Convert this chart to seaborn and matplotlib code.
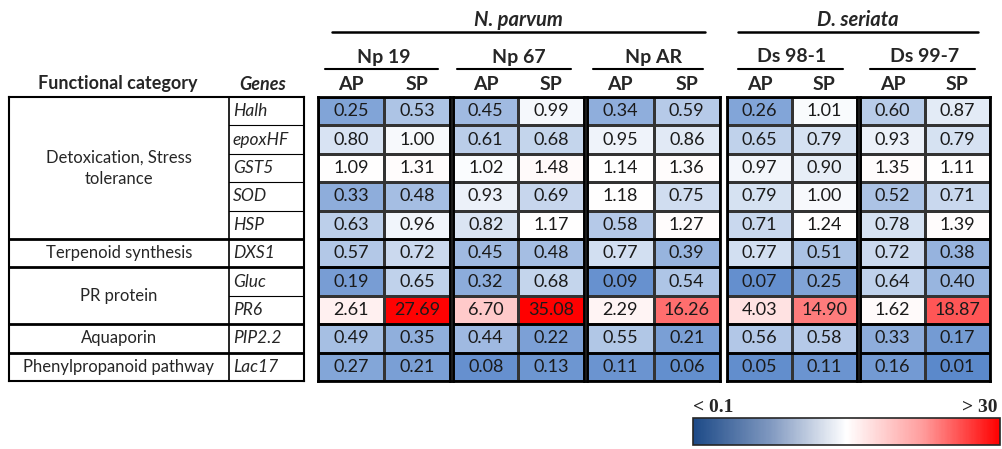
import numpy as np
import pandas as pd
import matplotlib
matplotlib.use('Agg')
import matplotlib.pyplot as plt
import matplotlib.colors as mcolors
from matplotlib.lines import Line2D
import seaborn as sns

# dados (fold change AP / SP por estirpe)
categories = ['Detoxication, Stress\ntolerance', 'Terpenoid synthesis', 'PR protein',
              'Aquaporin', 'Phenylpropanoid pathway']
category_rows = [5, 1, 2, 1, 1]
genes = ['Halh', 'epoxHF', 'GST5', 'SOD', 'HSP', 'DXS1', 'Gluc', 'PR6', 'PIP2.2', 'Lac17']
species = ['N. parvum', 'D. seriata']
strains = ['Np 19', 'Np 67', 'Np AR', 'Ds 98-1', 'Ds 99-7']
conditions = ['AP', 'SP']

np19_ap = [0.25, 0.80, 1.09, 0.33, 0.63, 0.57, 0.19, 2.61, 0.49, 0.27]
np19_sp = [0.53, 1.00, 1.31, 0.48, 0.96, 0.72, 0.65, 27.69, 0.35, 0.21]
np67_ap = [0.45, 0.61, 1.02, 0.93, 0.82, 0.45, 0.32, 6.70, 0.44, 0.08]
np67_sp = [0.99, 0.68, 1.48, 0.69, 1.17, 0.48, 0.68, 35.08, 0.22, 0.13]
npar_ap = [0.34, 0.95, 1.14, 1.18, 0.58, 0.77, 0.09, 2.29, 0.55, 0.11]
npar_sp = [0.59, 0.86, 1.36, 0.75, 1.27, 0.39, 0.54, 16.26, 0.21, 0.06]
ds981_ap = [0.26, 0.65, 0.97, 0.79, 0.71, 0.77, 0.07, 4.03, 0.56, 0.05]
ds981_sp = [1.01, 0.79, 0.90, 1.00, 1.24, 0.51, 0.25, 14.90, 0.58, 0.11]
ds997_ap = [0.60, 0.93, 1.35, 0.52, 0.78, 0.72, 0.64, 1.62, 0.33, 0.16]
ds997_sp = [0.87, 0.79, 1.11, 0.71, 1.39, 0.38, 0.40, 18.87, 0.17, 0.01]

strain_values = [(np19_ap, np19_sp), (np67_ap, np67_sp), (npar_ap, npar_sp),
                 (ds981_ap, ds981_sp), (ds997_ap, ds997_sp)]

# layout em pixels
W, H = 1003, 449
TOP, BOT = 97, 381
block_x = [(318, 450), (453, 584), (587, 720), (727, 857), (860, 990)]
strain_lines = [(325, 438), (457, 571), (593, 703), (738, 843), (870, 975)]
species_lines = [(332, 705), (738, 978)]

sns.set_style('white')
plt.rcParams['font.family'] = ['Lato', 'DejaVu Sans']

fig = plt.figure(figsize=(W / 100, H / 100), dpi=100)


def px_axes(x0, y0, x1, y1):
    return fig.add_axes([x0 / W, 1 - y1 / H, (x1 - x0) / W, (y1 - y0) / H])


def fx(x):
    return x / W


def fy(y):
    return 1 - y / H


cmap = mcolors.LinearSegmentedColormap.from_list('bwr_cells', ['#5a88cb', '#ffffff', '#ff0000'])
norm = mcolors.TwoSlopeNorm(vmin=0, vcenter=1.05, vmax=28)

# limites de grupo
bounds = np.cumsum(category_rows)[:-1]

for (x0, x1), (ap, sp), name in zip(block_x, strain_values, strains):
    ax = px_axes(x0, TOP, x1, BOT)
    df = pd.DataFrame({'AP': ap, 'SP': sp}, index=genes)
    sns.heatmap(df, ax=ax, cmap=cmap, norm=norm, annot=True, fmt='.2f', cbar=False,
                linewidths=0.8, linecolor='#333333', yticklabels=False,
                annot_kws={'color': '#1a1a1a', 'fontsize': 13})
    for b in bounds:
        ax.axhline(b, color='black', lw=2)
    for s in ax.spines.values():
        s.set_visible(True)
        s.set_linewidth(2)
        s.set_color('black')
    ax.xaxis.tick_top()
    ax.tick_params(axis='x', length=0, pad=3)
    for lab in ax.get_xticklabels():
        lab.set_fontweight('bold')
        lab.set_fontsize(14)
    fig.text(fx((x0 + x1) / 2), fy(57), name, ha='center', va='center',
             fontsize=14, fontweight='bold')

for (a, b) in strain_lines:
    fig.add_artist(Line2D([fx(a), fx(b)], [fy(69), fy(69)], color='black', lw=1.5))
for (a, b), sp_name in zip(species_lines, species):
    fig.add_artist(Line2D([fx(a), fx(b)], [fy(32), fy(32)], color='black', lw=1.8))
    fig.text(fx((a + b) / 2), fy(20), sp_name, ha='center', va='center',
             fontsize=14.5, fontweight='bold', style='italic')

# tabela esquerda
axl = px_axes(9, TOP, 304, BOT)
axl.set_xlim(0, 295)
axl.set_ylim(len(genes), 0)
axl.set_xticks([])
axl.set_yticks([])
for s in axl.spines.values():
    s.set_linewidth(1.5)
    s.set_color('black')
axl.axvline(220, color='black', lw=1.2)
start = 0
for cat, n in zip(categories, category_rows):
    axl.text(110, start + n / 2, cat, ha='center', va='center', fontsize=12,
             linespacing=1.4)
    for k in range(1, n):
        axl.plot([220, 295], [start + k, start + k], color='black', lw=0.8)
    start += n
    if start < len(genes):
        axl.axhline(start, color='black', lw=2)
for i, g in enumerate(genes):
    axl.text(224, i + 0.5, g, ha='left', va='center', fontsize=12.5, style='italic')

fig.text(fx(118), fy(84), 'Functional category', ha='center', va='center',
         fontsize=13, fontweight='bold')
fig.text(fx(263), fy(84), 'Genes', ha='center', va='center',
         fontsize=13, fontweight='bold', style='italic')

# legenda de cores
cax = px_axes(693, 418, 1000, 445)
legend_cmap = mcolors.LinearSegmentedColormap.from_list(
    'legend', ['#1d4a87', '#7f98c0', '#ffffff', '#ff9c9c', '#ff0000'])
cb = matplotlib.colorbar.ColorbarBase(cax, cmap=legend_cmap, orientation='horizontal')
cb.set_ticks([])
cb.outline.set_linewidth(1.2)
fig.text(fx(693), fy(408), '< 0.1', ha='left', va='center', fontsize=14,
         fontweight='bold', family='Liberation Serif')
fig.text(fx(998), fy(408), '> 30', ha='right', va='center', fontsize=14,
         fontweight='bold', family='Liberation Serif')

fig.savefig('out.png', dpi=100)
